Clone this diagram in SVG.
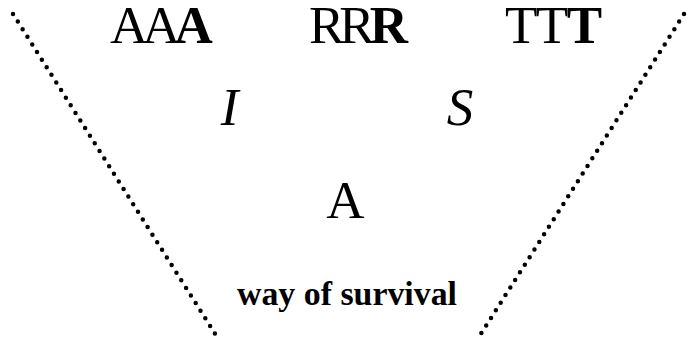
<svg xmlns="http://www.w3.org/2000/svg" width="696" height="344" viewBox="0 0 696 344">
<style>
text{font-family:"Liberation Serif","Times New Roman",serif;fill:#000}
.big{font-size:53px}
.b{font-weight:bold}
.it{font-style:italic}
.lbl{font-size:34px;font-weight:bold}
.dot{stroke:#000;stroke-width:4.5;stroke-linecap:round;stroke-dasharray:0 9;fill:none}
</style>
<rect width="696" height="344" fill="#fff"/>
<g id="connectors">
<line class="dot" x1="13" y1="14" x2="219" y2="340"/>
<line class="dot" x1="684" y1="14" x2="477" y2="340"/>
</g>
<g id="node-AAA"><text class="big" x="110" y="43" letter-spacing="-6">AA<tspan class="b">A</tspan></text></g>
<g id="node-RRR"><text class="big" x="309" y="43" letter-spacing="-5">RR<tspan class="b">R</tspan></text></g>
<g id="node-TTT"><text class="big" x="505" y="43" letter-spacing="-1.5">TT<tspan class="b">T</tspan></text></g>
<g id="node-I"><text class="big it" x="229.5" y="125" text-anchor="middle">I</text></g>
<g id="node-S"><text class="big it" x="460" y="125" text-anchor="middle">S</text></g>
<g id="node-A"><text class="big" x="345.5" y="218" text-anchor="middle">A</text></g>
<g id="node-label"><text class="lbl" x="237" y="305" textLength="220" lengthAdjust="spacingAndGlyphs">way of survival</text></g>
</svg>
